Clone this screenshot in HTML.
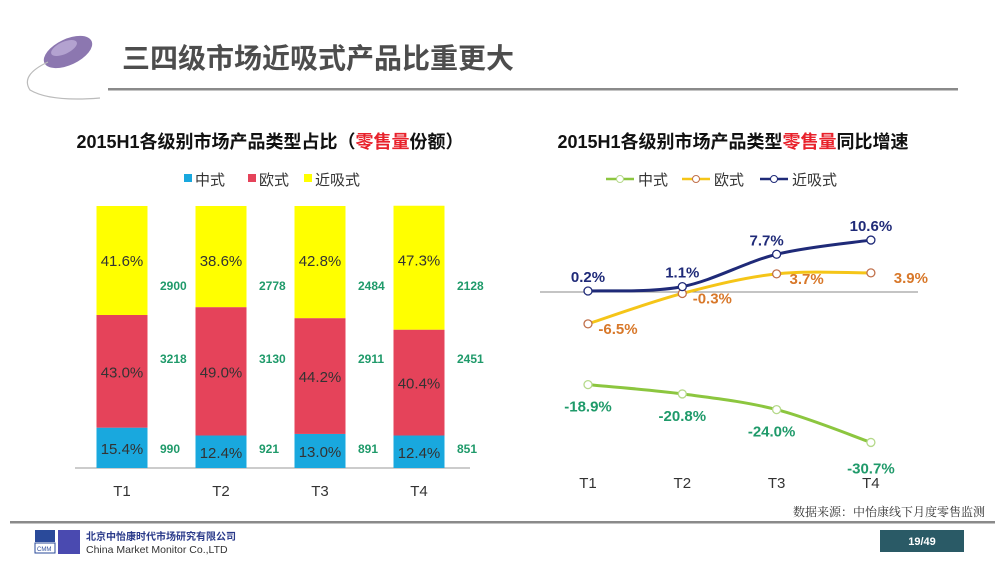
<!DOCTYPE html>
<html><head><meta charset="utf-8">
<style>
body{margin:0;width:1000px;height:563px;overflow:hidden;background:#fff;font-family:"Liberation Sans","Noto Sans CJK SC",sans-serif;}
svg{display:block}
</style></head>
<body>
<svg id="s" width="1000" height="563" viewBox="0 0 1000 563">
  <g>
    <ellipse cx="68" cy="52" rx="26" ry="13" transform="rotate(-25 68 52)" fill="#8c77b0"/>
    <ellipse cx="64" cy="48" rx="14" ry="6" transform="rotate(-25 64 48)" fill="#b3a2d0"/>
    <path d="M48 62 Q20 75 30 90 Q50 102 100 98" fill="none" stroke="#bbb" stroke-width="1.2"/>
    <text x="122" y="68" font-size="28" font-weight="bold" fill="#4d4d4d">三四级市场近吸式产品比重更大</text>
    <rect x="108" y="88" width="850" height="2.5" fill="#8a8a8a"/>
  </g>
  <text x="270" y="148" font-size="18" font-weight="bold" text-anchor="middle" fill="#111">2015H1各级别市场产品类型占比（<tspan fill="#e8212b">零售量</tspan>份额）</text>
  <text x="733" y="148" font-size="18" font-weight="bold" text-anchor="middle" fill="#111">2015H1各级别市场产品类型<tspan fill="#e8212b">零售量</tspan>同比增速</text>
  <g id="barLegend"></g>
  <g id="lineLegend"></g>
  <g id="bars"></g>
  <g id="lines"></g>
  <text x="985" y="516" font-size="12" text-anchor="end" fill="#333" font-family="'Noto Serif CJK SC',serif">数据来源：中怡康线下月度零售监测</text>
  <rect x="10" y="521" width="985" height="2.5" fill="#8a8a8a"/>
  <g>
    <rect x="35" y="530" width="20" height="12" fill="#2a4a9a"/>
    <rect x="35" y="543" width="20" height="10" fill="#fff" stroke="#2a4a9a"/>
    <text x="37" y="551" font-size="6" fill="#2a4a9a">CMM</text>
    <rect x="58" y="530" width="22" height="24" fill="#4a4ab0"/>
    <text x="86" y="540" font-size="10" font-weight="bold" fill="#2a3a8a">北京中怡康时代市场研究有限公司</text>
    <text x="86" y="553" font-size="10.5" fill="#333">China Market Monitor Co.,LTD</text>
  </g>
  <rect x="880" y="530" width="84" height="22" fill="#2a5a66"/>
  <text x="922" y="545" font-size="11" font-weight="bold" text-anchor="middle" fill="#fff">19/49</text>
</svg>
<script>
const NS="http://www.w3.org/2000/svg";
const categories=["T1","T2","T3","T4"];
const shareZhong=[15.4,12.4,13.0,12.4];
const shareOu=[43.0,49.0,44.2,40.4];
const shareJin=[41.6,38.6,42.8,47.3];
const volZhong=[990,921,891,851];
const volOu=[3218,3130,2911,2451];
const volJin=[2900,2778,2484,2128];
const growthZhong=[-18.9,-20.8,-24.0,-30.7];
const growthOu=[-6.5,-0.3,3.7,3.9];
const growthJin=[0.2,1.1,7.7,10.6];

function mk(tag,attrs,parent,txt){const e=document.createElementNS(NS,tag);for(const k in attrs)e.setAttribute(k,attrs[k]);if(txt!=null)e.textContent=txt;parent.appendChild(e);return e;}

// bar chart
const bx=i=>122+i*99, by=v=>468-v*2.62, bw=51;
const bars=document.getElementById('bars');
mk('line',{x1:75,x2:470,y1:468,y2:468,stroke:'#999'},bars);
const segs=[[shareZhong,'#19a8de',volZhong,448],[shareOu,'#e5435a',volOu,358],[shareJin,'#ffff00',volJin,285]];
categories.forEach((c,i)=>{
  let acc=0;
  segs.forEach(([arr,col,vol,ly],k)=>{
    const v=arr[i];
    const r=mk('rect',{x:bx(i)-bw/2,y:by(acc+v),width:bw,height:by(acc)-by(acc+v),fill:col},bars);
    
    
    const lyy=k==2?by(acc+v)+(by(acc)-by(acc+v))*0.18+6:(by(acc)+by(acc+v))/2+6;
    const t=mk('text',{x:bx(i),y:k==2?by(acc+v)+60:lyy,'font-size':15,'text-anchor':'middle',fill:'#333'},bars,v.toFixed(1)+'%');
    
    
    const n=mk('text',{x:bx(i)+38,y:ly+5,'font-size':12,'font-weight':'bold',fill:'#1f9a6a'},bars,vol[i]);
    
    
    acc+=v;
  });
  const xl=mk('text',{x:bx(i),y:496,'font-size':15,'text-anchor':'middle',fill:'#333'},bars,c);
  
  
});
// bar legend
const bl=document.getElementById('barLegend');
[['中式','#19a8de',184],['欧式','#e5435a',248],['近吸式','#ffff00',304]].forEach(([t,c,x])=>{
  mk('rect',{x:x,y:174,width:8,height:8,fill:c},bl);
  const e=mk('text',{x:x+11,y:185,'font-size':15,fill:'#333'},bl,t);
  
  
});
// line chart
const lx=i=>588+i*94.3, ly=v=>292-v*4.9;
const lines=document.getElementById('lines');
mk('line',{x1:540,x2:918,y1:292,y2:292,stroke:'#888'},lines);
function smooth(pts){let d='M'+pts[0][0]+' '+pts[0][1];for(let i=0;i<pts.length-1;i++){const p0=pts[i-1]||pts[i],p1=pts[i],p2=pts[i+1],p3=pts[i+2]||p2;const c1=[p1[0]+(p2[0]-p0[0])/6,p1[1]+(p2[1]-p0[1])/6],c2=[p2[0]-(p3[0]-p1[0])/6,p2[1]-(p3[1]-p1[1])/6];d+=` C${c1[0]} ${c1[1]} ${c2[0]} ${c2[1]} ${p2[0]} ${p2[1]}`;}return d;}
const series=[
 [growthZhong,'#8cc63f','#b5d98a','#1f9a6a','zhong',[[-0,22],[0,22],[-5,22],[0,26]]],
 [growthOu,'#f5c518','#c0704a','#d8782a','ou',[[30,5],[30,5],[30,5],[40,5]]],
 [growthJin,'#1f2a78','#1f2a78','#1f2a78','jin',[[0,-14],[0,-14],[-10,-14],[0,-14]]]
];
series.forEach(([arr,col,mcol,tcol,nm,off])=>{
  const pts=arr.map((v,i)=>[lx(i),ly(v)]);
  const p=mk('path',{d:smooth(pts),fill:'none',stroke:col,'stroke-width':3},lines);
  
  
  arr.forEach((v,i)=>{
    const c=mk('circle',{cx:lx(i),cy:ly(v),r:4,fill:'#fff',stroke:mcol,'stroke-width':1.3},lines);
    
    
    const t=mk('text',{x:lx(i)+off[i][0],y:ly(v)+off[i][1]+5,'font-size':15,'font-weight':'bold','text-anchor':'middle',fill:tcol},lines,v.toFixed(1)+'%');
    
    
  });
});
categories.forEach((c,i)=>{
  const t=mk('text',{x:lx(i),y:488,'font-size':15,'text-anchor':'middle',fill:'#333'},lines,c);
  
  
});
const ll=document.getElementById('lineLegend');
[['中式','#8cc63f','#b5d98a',606],['欧式','#f5c518','#c0704a',682],['近吸式','#1f2a78','#1f2a78',760]].forEach(([t,c,m,x])=>{
  mk('line',{x1:x,x2:x+28,y1:179,y2:179,stroke:c,'stroke-width':2.5},ll);
  mk('circle',{cx:x+14,cy:179,r:3.5,fill:'#fff',stroke:m},ll);
  const e=mk('text',{x:x+32,y:185,'font-size':15,fill:'#333'},ll,t);
  
  
});
</script>
</body></html>
